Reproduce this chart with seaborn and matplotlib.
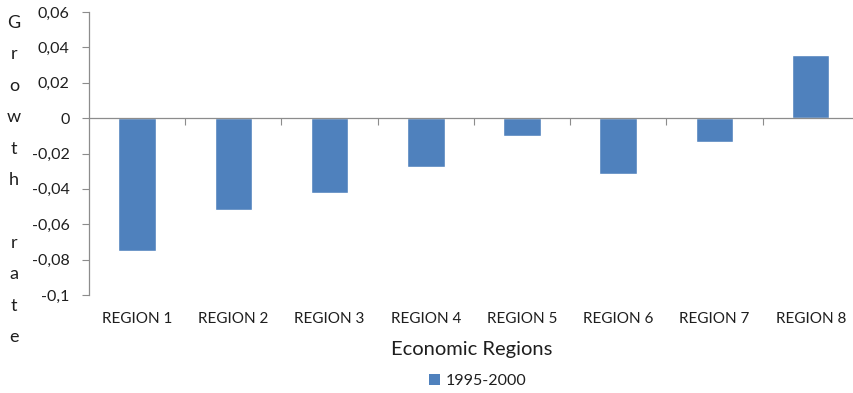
import matplotlib
matplotlib.use("Agg")
import matplotlib.pyplot as plt
import seaborn as sns
import pandas as pd
from matplotlib.patches import Patch
from matplotlib.ticker import FixedLocator, FuncFormatter

regions = ["REGION 1", "REGION 2", "REGION 3", "REGION 4",
           "REGION 5", "REGION 6", "REGION 7", "REGION 8"]
growth = [-0.075, -0.052, -0.0424, -0.0277, -0.0103, -0.0315, -0.0136, 0.0358]
series_name = "1995-2000"
y_ticks = [0.06, 0.04, 0.02, 0.0, -0.02, -0.04, -0.06, -0.08, -0.1]

sns.set_theme(style="white")
plt.rcParams["font.family"] = ["Lato", "DejaVu Sans"]

bar_color = "#4F81BD"
axis_color = "#8C8C8C"
text_color = "#1E1E1E"

df = pd.DataFrame({"region": regions, "growth": growth})

fig = plt.figure(figsize=(8.54, 3.93), dpi=100)
ax = fig.add_axes([89 / 854, 1 - 295 / 393, 1 - 89 / 854, (295 - 12) / 393])

sns.barplot(data=df, x="region", y="growth", color=bar_color, saturation=1,
            width=0.39, ax=ax)

ax.set_ylim(-0.1, 0.06)
ax.set_xlim(-0.5, 7.45)
ax.set_xlabel("")
ax.set_ylabel("")

# Y axis: gray spine with outward ticks and comma decimals
ax.yaxis.set_major_locator(FixedLocator(y_ticks))
ax.yaxis.set_major_formatter(FuncFormatter(
    lambda v, p: "0" if abs(v) < 1e-12 else f"{v:g}".replace(".", ",")))
ax.tick_params(axis="y", direction="out", length=5, width=0.8, color=axis_color,
               pad=9, labelsize=11.5, labelcolor=text_color, left=True)
ax.spines["left"].set_color(axis_color)
ax.spines["left"].set_linewidth(0.9)

# Category axis sits on the zero line, with marks between categories
ax.spines["bottom"].set_position(("data", 0))
ax.spines["bottom"].set_color(axis_color)
ax.spines["bottom"].set_linewidth(0.9)
for s in ("top", "right"):
    ax.spines[s].set_visible(False)
ax.set_xticks([i + 0.5 for i in range(len(regions) - 1)])
ax.set_xticklabels([])
ax.tick_params(axis="x", direction="out", length=5, width=0.8, color=axis_color,
               bottom=True)

# Category names along the bottom of the plot area
sec = ax.secondary_xaxis("bottom")
sec.set_xticks(range(len(regions)))
sec.set_xticklabels(regions)
sec.tick_params(length=0, pad=12, labelsize=11, labelcolor=text_color)
sec.spines["bottom"].set_visible(False)
sec.set_xlabel("Economic Regions", fontsize=14.5, color=text_color, labelpad=11)

# Vertical, letter-stacked axis title
fig.text(14 / 854, 1 - 180 / 393, "\n".join(list("Growth rate")),
         ha="center", va="center", fontsize=13, color=text_color,
         linespacing=2.19)

fig.legend(handles=[Patch(facecolor=bar_color, edgecolor="none", label=series_name)],
           loc="center", bbox_to_anchor=(478 / 854, 1 - 381 / 393), frameon=False,
           fontsize=11.5, handlelength=0.65, handleheight=0.65, handletextpad=0.4,
           labelcolor=text_color)

fig.savefig("out.png", dpi=100, facecolor="white")
